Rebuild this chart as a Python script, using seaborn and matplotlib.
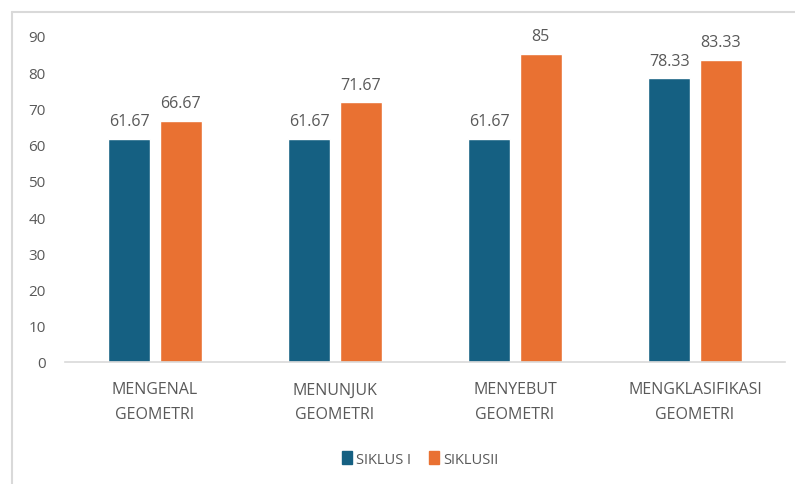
import matplotlib
matplotlib.use("Agg")
import matplotlib.pyplot as plt
import seaborn as sns
import pandas as pd
from matplotlib.lines import Line2D

categories = ["MENGENAL\nGEOMETRI", "MENUNJUK\nGEOMETRI", "MENYEBUT\nGEOMETRI", "MENGKLASIFIKASI\nGEOMETRI"]
series_names = ["SIKLUS I", "SIKLUSII"]
siklus1 = [61.67, 61.67, 61.67, 78.33]
siklus2 = [66.67, 71.67, 85, 83.33]
value_labels1 = ["61.67", "61.67", "61.67", "78.33"]
value_labels2 = ["66.67", "71.67", "85", "83.33"]
yticks = [0, 10, 20, 30, 40, 50, 60, 70, 80, 90]

colors = ["#156082", "#E97132"]
text_color = "#595959"

df = pd.DataFrame({
    "cat": categories * 2,
    "series": [series_names[0]] * 4 + [series_names[1]] * 4,
    "val": siklus1 + siklus2,
})

sns.set_theme(style="white")
plt.rcParams['font.family'] = ['Open Sans', 'DejaVu Sans']

fig = plt.figure(figsize=(7.95, 4.85), dpi=100)
ax = fig.add_axes([65 / 795, 122 / 485, 720 / 795, (448 - 122) / 485])

sns.barplot(data=df, x="cat", y="val", hue="series", palette=colors,
            width=0.572, gap=0.185, ax=ax, legend=False, saturation=1)

ax.set_ylim(0, 90)
ax.set_xlim(-0.5, 3.5)
ax.set_yticks(yticks)
ax.set_yticklabels([str(t) for t in yticks], color=text_color, fontsize=11)
ax.tick_params(axis="y", length=0, pad=14)
ax.tick_params(axis="x", length=0, pad=14, labelsize=11.5, labelcolor=text_color)
for lab in ax.get_xticklabels():
    lab.set_linespacing(1.75)
ax.set_xlabel("")
ax.set_ylabel("")
for s in ["top", "right", "left"]:
    ax.spines[s].set_visible(False)
ax.spines["bottom"].set_color("#d9d9d9")
ax.spines["bottom"].set_linewidth(1.2)

for container, labels in zip(ax.containers, [value_labels1, value_labels2]):
    ax.bar_label(container, labels=labels, padding=7, color=text_color, fontsize=11.5)

handles = [plt.Rectangle((0, 0), 1, 1, color=c) for c in colors]
fig.legend(handles, series_names, loc="center", bbox_to_anchor=(420 / 795, 1 - 460 / 485),
           ncol=2, frameon=False, fontsize=10.5, labelcolor=text_color,
           handlelength=0.7, handleheight=0.9, handletextpad=0.3, columnspacing=1.2)

# chart frame (light gray border)
fig.add_artist(Line2D([12 / 795, 12 / 795], [0, 1 - 13 / 485], transform=fig.transFigure,
                      color="#d9d9d9", lw=1.5))
fig.add_artist(Line2D([12 / 795, 1], [1 - 13 / 485, 1 - 13 / 485], transform=fig.transFigure,
                      color="#d9d9d9", lw=1.5))

fig.savefig("out.png", dpi=100)
